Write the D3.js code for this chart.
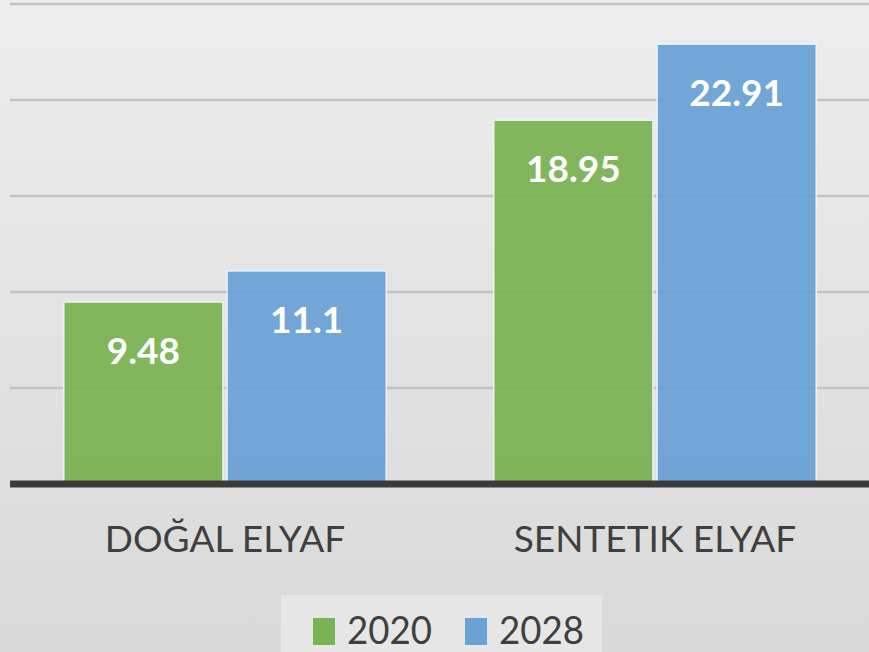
<!DOCTYPE html>
<html>
<head>
<meta charset="utf-8">
<title></title>
<style>
body { margin: 0; }
text { font-family: Lato, "Open Sans", sans-serif; }
.grid line { stroke: #c3c3c3; stroke-width: 2.5px; }
.value { fill: #fff; font-weight: bold; font-size: 37px; }
.cat { fill: #3f3f3f; font-size: 37px; }
.leg { fill: #3f3f3f; font-size: 38px; }
</style>
</head>
<body>
<script src="https://cdn.jsdelivr.net/npm/d3@7"></script>
<script>

var categories = ["DOĞAL ELYAF", "SENTETIK ELYAF"];
var years = ["2020", "2028"];
var values2020 = [9.48, 18.95];
var values2028 = [11.1, 22.91];
var yTicks = [5, 10, 15, 20, 25];

var colors = { "2020": "#7ab354", "2028": "#6aa2d6" };

var width = 869,
    height = 652;

var data = categories.map(function(c, i) {
  return { cat: c, vals: [
    { year: "2020", value: values2020[i] },
    { year: "2028", value: values2028[i] }
  ] };
});

var svg = d3.select("body").append("svg")
    .attr("width", width)
    .attr("height", height);

// background gradient
var defs = svg.append("defs");
var grad = defs.append("linearGradient")
    .attr("id", "bg")
    .attr("x1", 0).attr("y1", 0).attr("x2", 0).attr("y2", 1);
grad.append("stop").attr("offset", "0%").attr("stop-color", "#ededed");
grad.append("stop").attr("offset", "100%").attr("stop-color", "#d9d9d9");

svg.append("rect")
    .attr("width", width)
    .attr("height", height)
    .attr("fill", "url(#bg)");

var x0 = d3.scaleBand()
    .domain(categories)
    .range([10, 870])
    .paddingInner(0.25)
    .paddingOuter(0.125);

var x1 = d3.scaleBand()
    .domain(years)
    .range([0, x0.bandwidth()])
    .paddingInner(0.025);

var y = d3.scaleLinear()
    .domain([0, 25])
    .range([484, 4]);

// gridlines
svg.append("g")
    .attr("class", "grid")
    .selectAll("line")
    .data(yTicks)
    .enter().append("line")
    .attr("x1", 10)
    .attr("x2", width)
    .attr("y1", function(d) { return y(d); })
    .attr("y2", function(d) { return y(d); });

var group = svg.selectAll(".group")
    .data(data)
    .enter().append("g")
    .attr("class", "group")
    .attr("transform", function(d) { return "translate(" + x0(d.cat) + ",0)"; });

group.selectAll("rect")
    .data(function(d) { return d.vals; })
    .enter().append("rect")
    .attr("x", function(d) { return x1(d.year); })
    .attr("y", function(d) { return y(d.value); })
    .attr("width", x1.bandwidth())
    .attr("height", function(d) { return y(0) - y(d.value); })
    .attr("fill", function(d) { return colors[d.year]; })
    .attr("fill-opacity", 0.94)
    .attr("stroke", "#eef3f8")
    .attr("stroke-width", 1.5);

group.selectAll(".value")
    .data(function(d) { return d.vals; })
    .enter().append("text")
    .attr("class", "value")
    .attr("text-anchor", "middle")
    .attr("x", function(d) { return x1(d.year) + x1.bandwidth() / 2; })
    .attr("y", function(d) { return y(d.value) + 62; })
    .text(function(d) { return d.value; });

// baseline
svg.append("line")
    .attr("x1", 10)
    .attr("x2", width)
    .attr("y1", y(0))
    .attr("y2", y(0))
    .attr("stroke", "#3b3b3b")
    .attr("stroke-width", 7);

// category labels
svg.selectAll(".cat")
    .data(categories)
    .enter().append("text")
    .attr("class", "cat")
    .attr("text-anchor", "middle")
    .attr("x", function(d) { return x0(d) + x0.bandwidth() / 2; })
    .attr("y", 552)
    .text(function(d) { return d; });

// legend
var legend = svg.append("g");
legend.append("rect")
    .attr("x", 281)
    .attr("y", 595)
    .attr("width", 321)
    .attr("height", 60)
    .attr("fill", "#e6e6e6");

var legX = [313, 465];
var item = legend.selectAll(".item")
    .data(years)
    .enter().append("g")
    .attr("class", "item")
    .attr("transform", function(d, i) { return "translate(" + legX[i] + ",0)"; });

item.append("rect")
    .attr("x", 0)
    .attr("y", 618)
    .attr("width", 22)
    .attr("height", 27)
    .attr("fill", function(d) { return colors[d]; });

item.append("text")
    .attr("class", "leg")
    .attr("x", 34)
    .attr("y", 644)
    .attr("textLength", 85)
    .attr("lengthAdjust", "spacingAndGlyphs")
    .text(function(d) { return d; });

</script>
</body>
</html>
